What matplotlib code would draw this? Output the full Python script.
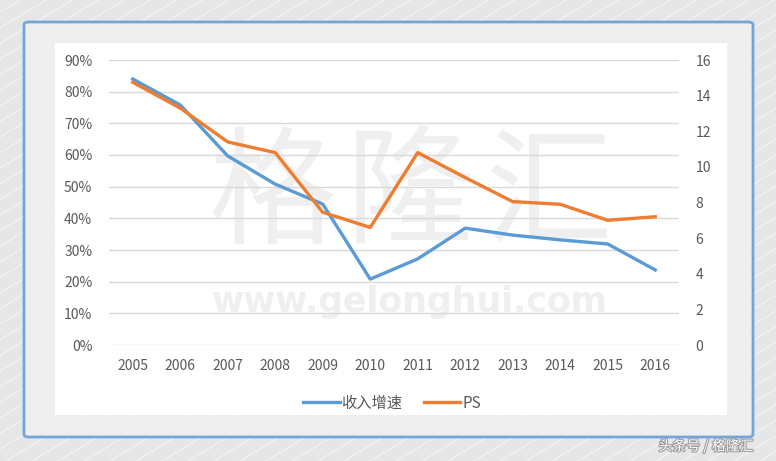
import numpy as np
import matplotlib.pyplot as plt
import matplotlib.ticker as ticker
import matplotlib.patheffects as pe
from matplotlib.patches import FancyBboxPatch, Rectangle
from matplotlib.lines import Line2D

plt.rcParams['font.family'] = ['Noto Sans CJK SC', 'DejaVu Sans']

years = [2005, 2006, 2007, 2008, 2009, 2010, 2011, 2012, 2013, 2014, 2015, 2016]
growth = [0.84, 0.758, 0.597, 0.508, 0.445, 0.208, 0.272, 0.369, 0.347, 0.332, 0.319, 0.237]
ps = [14.75, 13.3, 11.4, 10.8, 7.45, 6.6, 10.8, 9.4, 8.05, 7.9, 7.0, 7.2]
labels = ['收入增速', 'PS']

blue = '#5b9bd5'
orange = '#ed7d31'
grey = '#595959'

W, H = 776, 461
fig = plt.figure(figsize=(W / 100, H / 100), dpi=100)
fig.patch.set_facecolor('#e6e6e6')

# diagonal stripes in the background (pixel coords -> figure fraction)
slope = 0.6
for x0 in range(-800, 800, 26):
    xs = np.array([x0, x0 + 900])
    ys = (xs - x0) * slope
    fig.add_artist(Line2D(xs / W, ys / H, transform=fig.transFigure,
                          color='white', lw=0.9, alpha=0.55, zorder=-5))

# blue framed box and white panel
fig.add_artist(FancyBboxPatch((24 / W, 1 - 437 / H), 729 / W, 415 / H,
                              boxstyle='round,pad=0,rounding_size=0.006',
                              transform=fig.transFigure, facecolor='#f0f0f0',
                              edgecolor=blue, lw=2, zorder=-4, alpha=0.85))
fig.add_artist(Rectangle((55 / W, 1 - 415 / H), 672 / W, 372 / H,
                         transform=fig.transFigure, facecolor='white',
                         edgecolor='none', zorder=-3))

# watermark
for ch, cx in zip('格隆汇', [272, 410, 548]):
    fig.text(cx / W, 1 - 198 / H, ch, fontsize=92, color='#efefef', weight='light',
             ha='center', va='center', zorder=-2)
fig.text(410 / W, 1 - 302 / H, 'www.gelonghui.com', fontsize=25, color='#efefef',
         weight='bold', family='DejaVu Sans', ha='center', va='center', zorder=-2)

ax = fig.add_axes([109 / W, 1 - 345 / H, 570 / W, 285 / H])
ax.set_facecolor('none')
ax2 = ax.twinx()
ax2.set_facecolor('none')

l1, = ax.plot(years, growth, color=blue, lw=2.4, solid_joinstyle='round', zorder=3)
l2, = ax2.plot(years, ps, color=orange, lw=2.4, solid_joinstyle='round', zorder=3)

ax.set_xlim(2004.5, 2016.5)
ax.set_ylim(0, 0.9)
ax2.set_ylim(0, 16)
ax.yaxis.set_major_locator(ticker.MultipleLocator(0.1))
ax.yaxis.set_major_formatter(ticker.PercentFormatter(1.0, decimals=0))
ax2.yaxis.set_major_locator(ticker.MultipleLocator(2))
ax.set_xticks(years)
ax.grid(axis='y', color='#d9d9d9', lw=1)
ax.set_axisbelow(True)

for a in (ax, ax2):
    for s in a.spines.values():
        s.set_visible(False)
    a.tick_params(length=0, labelsize=10, labelcolor=grey)
ax.tick_params(axis='y', pad=12)
ax.tick_params(axis='x', pad=10)
ax2.tick_params(axis='y', pad=12)

fig.legend([l1, l2], labels, loc='center', bbox_to_anchor=(392 / W, 1 - 403 / H),
           ncol=2, frameon=False, fontsize=11, handlelength=2.4, handletextpad=0.1,
           columnspacing=1.4, labelcolor=grey)

fig.text(706 / W, 1 - 446 / H, '头条号 / 格隆汇', fontsize=10, color='white',
         ha='center', va='center',
         path_effects=[pe.withStroke(linewidth=1.5, foreground='#9a9a9a')])

fig.savefig('out.png', dpi=100, facecolor=fig.get_facecolor())
